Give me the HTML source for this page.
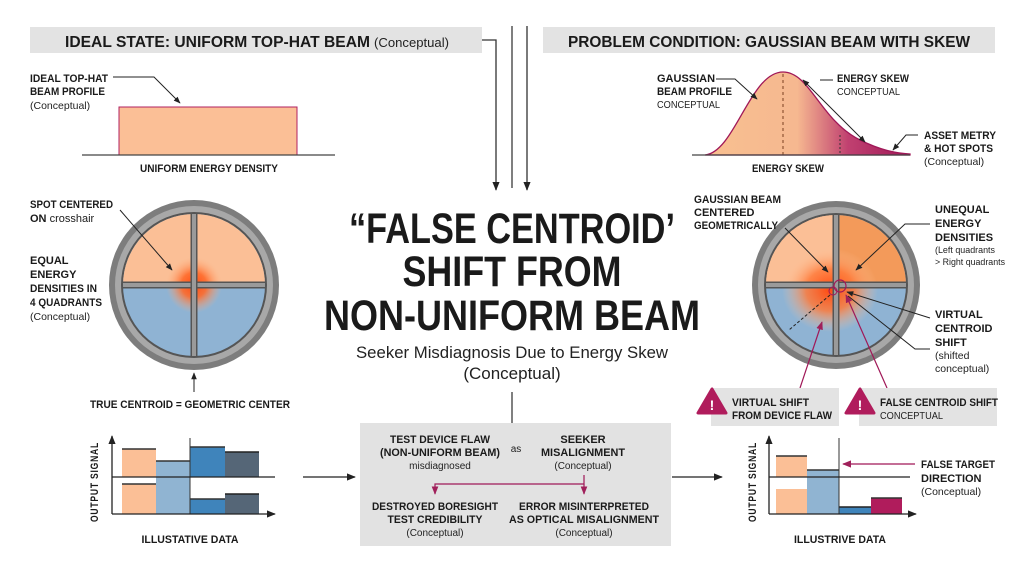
<!DOCTYPE html>
<html><head><meta charset="utf-8"><style>
html,body{margin:0;padding:0;background:#fff;}
svg{display:block;font-family:"Liberation Sans",sans-serif;}
.b{font-weight:bold;fill:#1a1a1a;}
.n{fill:#222;}
</style></head><body>
<svg width="1024" height="572" viewBox="0 0 1024 572" xmlns="http://www.w3.org/2000/svg">
<defs>
<marker id="ar" viewBox="0 0 10 10" refX="9" refY="5" markerWidth="7" markerHeight="7" orient="auto-start-reverse"><path d="M0,1 L10,5 L0,9 z" fill="#222"/></marker>
<marker id="am" viewBox="0 0 10 10" refX="9" refY="5" markerWidth="7" markerHeight="7" orient="auto-start-reverse"><path d="M0,1 L10,5 L0,9 z" fill="#a0205a"/></marker>
<radialGradient id="spot1"><stop offset="0" stop-color="#ff4a10"/><stop offset="0.45" stop-color="#ff6a2a" stop-opacity="0.9"/><stop offset="1" stop-color="#ffb080" stop-opacity="0"/></radialGradient>
<radialGradient id="spot2"><stop offset="0" stop-color="#ff4a10"/><stop offset="0.5" stop-color="#ff7a3a" stop-opacity="0.85"/><stop offset="1" stop-color="#ffc8a0" stop-opacity="0"/></radialGradient>
<linearGradient id="gs" x1="0" x2="1"><stop offset="0" stop-color="#f8c090"/><stop offset="0.45" stop-color="#f6b890"/><stop offset="0.7" stop-color="#c04070"/><stop offset="1" stop-color="#a01858"/></linearGradient>
</defs>

<!-- headers -->
<rect x="30" y="27" width="452" height="26" fill="#e3e3e3"/>
<text x="65" y="47" class="b" font-size="16" textLength="305" lengthAdjust="spacingAndGlyphs">IDEAL STATE: UNIFORM TOP-HAT BEAM</text>
<text x="374" y="47" class="n" font-size="13" textLength="75" lengthAdjust="spacingAndGlyphs">(Conceptual)</text>
<rect x="543" y="27" width="452" height="26" fill="#e3e3e3"/>
<text x="568" y="47" class="b" font-size="16" textLength="402" lengthAdjust="spacingAndGlyphs">PROBLEM CONDITION: GAUSSIAN BEAM WITH SKEW</text>

<!-- center connectors -->
<path d="M482,40 H496 V190" fill="none" stroke="#333" stroke-width="1.3" marker-end="url(#ar)"/>
<line x1="512" y1="26" x2="512" y2="188" stroke="#555" stroke-width="1.5"/>
<path d="M527,26 V190" fill="none" stroke="#333" stroke-width="1.3" marker-end="url(#ar)"/>
<line x1="512" y1="392" x2="512" y2="423" stroke="#555" stroke-width="1.5"/>

<!-- title -->
<text x="512" y="243" text-anchor="middle" class="b" font-size="43" fill="#111" textLength="326" lengthAdjust="spacingAndGlyphs">“FALSE CENTROID’</text>
<text x="512" y="286" text-anchor="middle" class="b" font-size="43" fill="#111" textLength="219" lengthAdjust="spacingAndGlyphs">SHIFT FROM</text>
<text x="512" y="330" text-anchor="middle" class="b" font-size="43" fill="#111" textLength="376" lengthAdjust="spacingAndGlyphs">NON-UNIFORM BEAM</text>
<text x="512" y="358" text-anchor="middle" class="n" font-size="17" textLength="312" lengthAdjust="spacingAndGlyphs">Seeker Misdiagnosis Due to Energy Skew</text>
<text x="512" y="379" text-anchor="middle" class="n" font-size="17">(Conceptual)</text>

<!-- top hat -->
<text x="30" y="82" class="b" font-size="11" textLength="78" lengthAdjust="spacingAndGlyphs">IDEAL TOP-HAT</text>
<text x="30" y="95" class="b" font-size="11" textLength="75" lengthAdjust="spacingAndGlyphs">BEAM PROFILE</text>
<text x="30" y="109" class="n" font-size="10.5">(Conceptual)</text>
<path d="M113,77 H154 L180,103" fill="none" stroke="#222" stroke-width="1" marker-end="url(#ar)"/>
<rect x="119" y="107" width="178" height="48" fill="#fbbf96" stroke="#b02060" stroke-width="1"/>
<line x1="82" y1="155" x2="335" y2="155" stroke="#444" stroke-width="1.2"/>
<text x="209" y="172" text-anchor="middle" class="b" font-size="11" textLength="138" lengthAdjust="spacingAndGlyphs">UNIFORM ENERGY DENSITY</text>

<!-- left circle -->
<circle cx="194" cy="285" r="85" fill="#7d7d7d"/>
<circle cx="194" cy="285" r="79" fill="#a8a8a8"/>
<circle cx="194" cy="285" r="73" fill="#555"/>
<circle cx="194" cy="285" r="71" fill="#8fb3d3"/>
<path d="M123,285 A71,71 0 0 1 265,285 Z" fill="#fbbf96"/>
<circle cx="194" cy="285" r="28" fill="url(#spot1)"/>
<line x1="123" y1="285" x2="265" y2="285" stroke="#555" stroke-width="7"/>
<line x1="123" y1="285" x2="265" y2="285" stroke="#9a9a9a" stroke-width="4"/>
<line x1="194" y1="214" x2="194" y2="356" stroke="#555" stroke-width="7"/>
<line x1="194" y1="214" x2="194" y2="356" stroke="#9a9a9a" stroke-width="4"/>
<text x="30" y="208" class="b" font-size="11" textLength="83" lengthAdjust="spacingAndGlyphs">SPOT CENTERED</text>
<text x="30" y="222" class="b" font-size="11">ON <tspan font-weight="normal">crosshair</tspan></text>
<line x1="120" y1="210" x2="172" y2="270" stroke="#222" stroke-width="1" marker-end="url(#ar)"/>
<text x="30" y="264" class="b" font-size="11">EQUAL</text>
<text x="30" y="278" class="b" font-size="11">ENERGY</text>
<text x="30" y="292" class="b" font-size="11" textLength="67" lengthAdjust="spacingAndGlyphs">DENSITIES IN</text>
<text x="30" y="306" class="b" font-size="11" textLength="72" lengthAdjust="spacingAndGlyphs">4 QUADRANTS</text>
<text x="30" y="320" class="n" font-size="10.5">(Conceptual)</text>
<line x1="194" y1="392" x2="194" y2="373" stroke="#222" stroke-width="1" marker-end="url(#ar)"/>
<text x="190" y="408" text-anchor="middle" class="b" font-size="11" textLength="200" lengthAdjust="spacingAndGlyphs">TRUE CENTROID = GEOMETRIC CENTER</text>

<!-- gaussian -->
<path d="M705,155 C735,152 750,72 783,72 C810,72 820,120 860,140 C880,150 895,153 910,154 L910,155 Z" fill="url(#gs)" stroke="#a01858" stroke-width="1.3"/>
<line x1="783" y1="74" x2="783" y2="155" stroke="#7a4020" stroke-width="1" stroke-dasharray="3,3"/>
<line x1="840" y1="135" x2="840" y2="155" stroke="#333" stroke-width="1" stroke-dasharray="2,2"/>
<line x1="692" y1="155" x2="910" y2="155" stroke="#444" stroke-width="1.2"/>
<text x="657" y="82" class="b" font-size="11">GAUSSIAN</text>
<text x="657" y="95" class="b" font-size="11" textLength="75" lengthAdjust="spacingAndGlyphs">BEAM PROFILE</text>
<text x="657" y="108" class="n" font-size="10.5" textLength="63" lengthAdjust="spacingAndGlyphs">CONCEPTUAL</text>
<path d="M716,79 H735 L757,99" fill="none" stroke="#222" stroke-width="1" marker-end="url(#ar)"/>
<text x="837" y="82" class="b" font-size="11" textLength="72" lengthAdjust="spacingAndGlyphs">ENERGY SKEW</text>
<text x="837" y="95" class="n" font-size="10.5" textLength="63" lengthAdjust="spacingAndGlyphs">CONCEPTUAL</text>
<path d="M833,80 L820,80" fill="none" stroke="#222" stroke-width="1"/>
<line x1="803" y1="80" x2="865" y2="142" stroke="#222" stroke-width="1" marker-end="url(#ar)" marker-start="url(#ar)"/>
<text x="924" y="139" class="b" font-size="11" textLength="72" lengthAdjust="spacingAndGlyphs">ASSET METRY</text>
<text x="924" y="152" class="b" font-size="11" textLength="69" lengthAdjust="spacingAndGlyphs">&amp; HOT SPOTS</text>
<text x="924" y="165" class="n" font-size="10.5">(Conceptual)</text>
<path d="M918,135 H906 L893,150" fill="none" stroke="#222" stroke-width="1" marker-end="url(#ar)"/>
<text x="788" y="172" text-anchor="middle" class="b" font-size="11" textLength="72" lengthAdjust="spacingAndGlyphs">ENERGY SKEW</text>

<!-- right circle -->
<circle cx="836" cy="285" r="84" fill="#7d7d7d"/>
<circle cx="836" cy="285" r="78" fill="#a8a8a8"/>
<circle cx="836" cy="285" r="72" fill="#555"/>
<circle cx="836" cy="285" r="70" fill="#8fb3d3"/>
<path d="M766,285 A70,70 0 0 1 906,285 Z" fill="#f39a5a"/>
<path d="M766,285 A70,70 0 0 1 836,215 V285 Z" fill="#fbbf96"/>
<ellipse cx="830" cy="290" rx="48" ry="42" fill="url(#spot2)"/>
<line x1="766" y1="285" x2="906" y2="285" stroke="#555" stroke-width="7"/>
<line x1="766" y1="285" x2="906" y2="285" stroke="#9a9a9a" stroke-width="4"/>
<line x1="836" y1="215" x2="836" y2="355" stroke="#555" stroke-width="7"/>
<line x1="836" y1="215" x2="836" y2="355" stroke="#9a9a9a" stroke-width="4"/>
<circle cx="840" cy="286" r="6" fill="none" stroke="#a01858" stroke-width="1.2"/>
<circle cx="833" cy="291" r="4" fill="none" stroke="#a01858" stroke-width="1"/>
<line x1="830" y1="295" x2="789" y2="330" stroke="#222" stroke-width="1" stroke-dasharray="3,2"/>
<text x="694" y="203" class="b" font-size="11" textLength="87" lengthAdjust="spacingAndGlyphs">GAUSSIAN BEAM</text>
<text x="694" y="216" class="b" font-size="11">CENTERED</text>
<text x="694" y="229" class="b" font-size="11" textLength="84" lengthAdjust="spacingAndGlyphs">GEOMETRICALLY</text>
<line x1="785" y1="228" x2="828" y2="272" stroke="#222" stroke-width="1" marker-end="url(#ar)"/>
<text x="935" y="213" class="b" font-size="11">UNEQUAL</text>
<text x="935" y="227" class="b" font-size="11">ENERGY</text>
<text x="935" y="241" class="b" font-size="11">DENSITIES</text>
<text x="935" y="253" class="n" font-size="9.5" textLength="60" lengthAdjust="spacingAndGlyphs">(Left quadrants</text>
<text x="935" y="265" class="n" font-size="9.5" textLength="70" lengthAdjust="spacingAndGlyphs">&gt; Right quadrants</text>
<path d="M930,224 H905 L856,270" fill="none" stroke="#222" stroke-width="1" marker-end="url(#ar)"/>
<text x="935" y="318" class="b" font-size="11">VIRTUAL</text>
<text x="935" y="332" class="b" font-size="11">CENTROID</text>
<text x="935" y="346" class="b" font-size="11">SHIFT</text>
<text x="935" y="359" class="n" font-size="10.5">(shifted</text>
<text x="935" y="372" class="n" font-size="10.5">conceptual)</text>
<path d="M930,318 L847,292" fill="none" stroke="#222" stroke-width="1" marker-end="url(#ar)"/>
<path d="M930,349 H915 L848,296" fill="none" stroke="#222" stroke-width="1"/>
<line x1="800" y1="388" x2="822" y2="322" stroke="#a01858" stroke-width="1.2" marker-end="url(#am)"/>
<line x1="887" y1="388" x2="846" y2="295" stroke="#a01858" stroke-width="1.2" marker-end="url(#am)"/>

<!-- warning boxes -->
<rect x="711" y="388" width="128" height="38" fill="#e3e3e3"/>
<path d="M712,389 L698,413 L726,413 Z" fill="#b01c5c" stroke="#b01c5c" stroke-width="3" stroke-linejoin="round"/>
<text x="712" y="410" text-anchor="middle" fill="#fff" font-weight="bold" font-size="14">!</text>
<text x="732" y="406" class="b" font-size="11" textLength="77" lengthAdjust="spacingAndGlyphs">VIRTUAL SHIFT</text>
<text x="732" y="419" class="b" font-size="11" textLength="100" lengthAdjust="spacingAndGlyphs">FROM DEVICE FLAW</text>
<rect x="859" y="388" width="138" height="38" fill="#e3e3e3"/>
<path d="M860,389 L846,413 L874,413 Z" fill="#b01c5c" stroke="#b01c5c" stroke-width="3" stroke-linejoin="round"/>
<text x="860" y="410" text-anchor="middle" fill="#fff" font-weight="bold" font-size="14">!</text>
<text x="880" y="406" class="b" font-size="11" textLength="118" lengthAdjust="spacingAndGlyphs">FALSE CENTROID SHIFT</text>
<text x="880" y="419" class="n" font-size="10.5" textLength="63" lengthAdjust="spacingAndGlyphs">CONCEPTUAL</text>

<!-- left chart -->
<rect x="122" y="449" width="34" height="28" fill="#fbbf96"/><line x1="122" y1="449" x2="156" y2="449" stroke="#333" stroke-width="1.5"/>
<rect x="122" y="484" width="34" height="30" fill="#fbbf96"/><line x1="122" y1="484" x2="156" y2="484" stroke="#333" stroke-width="1.5"/>
<rect x="156" y="461" width="34" height="53" fill="#90b4d2"/><line x1="156" y1="461" x2="190" y2="461" stroke="#333" stroke-width="1.5"/>
<rect x="190" y="447" width="35" height="30" fill="#3f84bb"/><line x1="190" y1="447" x2="225" y2="447" stroke="#333" stroke-width="1.5"/>
<rect x="190" y="499" width="35" height="15" fill="#3f84bb"/><line x1="190" y1="499" x2="225" y2="499" stroke="#333" stroke-width="1.5"/>
<rect x="225" y="452" width="34" height="25" fill="#556677"/><line x1="225" y1="452" x2="259" y2="452" stroke="#222" stroke-width="1.5"/>
<rect x="225" y="494" width="34" height="20" fill="#556677"/><line x1="225" y1="494" x2="259" y2="494" stroke="#222" stroke-width="1.5"/>
<line x1="190" y1="438" x2="190" y2="514" stroke="#333" stroke-width="1"/>
<line x1="112" y1="477" x2="275" y2="477" stroke="#222" stroke-width="1.3"/>
<line x1="112" y1="514" x2="112" y2="436" stroke="#222" stroke-width="1.3" marker-end="url(#ar)"/>
<line x1="112" y1="514" x2="275" y2="514" stroke="#222" stroke-width="1.3" marker-end="url(#ar)"/>
<text transform="translate(98,482) rotate(-90)" text-anchor="middle" class="b" font-size="11" letter-spacing="1" textLength="80" lengthAdjust="spacingAndGlyphs">OUTPUT SIGNAL</text>
<text x="190" y="543" text-anchor="middle" class="b" font-size="11" textLength="97" lengthAdjust="spacingAndGlyphs">ILLUSTATIVE DATA</text>

<path d="M303,477 H355" stroke="#222" stroke-width="1.3" marker-end="url(#ar)"/>
<path d="M672,477 H722" stroke="#222" stroke-width="1.3" marker-end="url(#ar)"/>

<!-- center box -->
<rect x="360" y="423" width="311" height="123" fill="#e2e2e2"/>
<text x="440" y="443" text-anchor="middle" class="b" font-size="11" textLength="100" lengthAdjust="spacingAndGlyphs">TEST DEVICE FLAW</text>
<text x="440" y="456" text-anchor="middle" class="b" font-size="11" textLength="120" lengthAdjust="spacingAndGlyphs">(NON-UNIFORM BEAM)</text>
<text x="440" y="469" text-anchor="middle" class="n" font-size="10">misdiagnosed</text>
<text x="516" y="452" text-anchor="middle" class="n" font-size="10">as</text>
<text x="583" y="443" text-anchor="middle" class="b" font-size="11">SEEKER</text>
<text x="583" y="456" text-anchor="middle" class="b" font-size="11" textLength="84" lengthAdjust="spacingAndGlyphs">MISALIGNMENT</text>
<text x="583" y="469" text-anchor="middle" class="n" font-size="10">(Conceptual)</text>
<path d="M584,475 V484 H435 V494" fill="none" stroke="#a01858" stroke-width="1.2" marker-end="url(#am)"/>
<path d="M584,484 V494" fill="none" stroke="#a01858" stroke-width="1.2" marker-end="url(#am)"/>
<text x="435" y="510" text-anchor="middle" class="b" font-size="11" textLength="126" lengthAdjust="spacingAndGlyphs">DESTROYED BORESIGHT</text>
<text x="435" y="523" text-anchor="middle" class="b" font-size="11" textLength="95" lengthAdjust="spacingAndGlyphs">TEST CREDIBILITY</text>
<text x="435" y="536" text-anchor="middle" class="n" font-size="10">(Conceptual)</text>
<text x="584" y="510" text-anchor="middle" class="b" font-size="11" textLength="130" lengthAdjust="spacingAndGlyphs">ERROR MISINTERPRETED</text>
<text x="584" y="523" text-anchor="middle" class="b" font-size="11" textLength="150" lengthAdjust="spacingAndGlyphs">AS OPTICAL MISALIGNMENT</text>
<text x="584" y="536" text-anchor="middle" class="n" font-size="10">(Conceptual)</text>

<!-- right chart -->
<rect x="776" y="456" width="31" height="21" fill="#fbbf96"/><line x1="776" y1="456" x2="807" y2="456" stroke="#333" stroke-width="1.5"/>
<rect x="776" y="489" width="31" height="25" fill="#fbbf96"/>
<rect x="807" y="470" width="32" height="44" fill="#90b4d2"/><line x1="807" y1="470" x2="839" y2="470" stroke="#333" stroke-width="1.5"/>
<rect x="839" y="507" width="32" height="7" fill="#3f84bb"/><line x1="839" y1="507" x2="871" y2="507" stroke="#222" stroke-width="1.5"/>
<rect x="871" y="498" width="31" height="16" fill="#b01c5c"/><line x1="871" y1="498" x2="902" y2="498" stroke="#333" stroke-width="1.5"/>
<line x1="839" y1="438" x2="839" y2="514" stroke="#333" stroke-width="1"/>
<line x1="769" y1="477" x2="910" y2="477" stroke="#222" stroke-width="1.3"/>
<line x1="769" y1="514" x2="769" y2="436" stroke="#222" stroke-width="1.3" marker-end="url(#ar)"/>
<line x1="769" y1="514" x2="916" y2="514" stroke="#222" stroke-width="1.3" marker-end="url(#ar)"/>
<text transform="translate(756,482) rotate(-90)" text-anchor="middle" class="b" font-size="11" letter-spacing="1" textLength="80" lengthAdjust="spacingAndGlyphs">OUTPUT SIGNAL</text>
<line x1="915" y1="464" x2="843" y2="464" stroke="#a01858" stroke-width="1.3" marker-end="url(#am)"/>
<text x="921" y="468" class="b" font-size="11" textLength="74" lengthAdjust="spacingAndGlyphs">FALSE TARGET</text>
<text x="921" y="482" class="b" font-size="11">DIRECTION</text>
<text x="921" y="495" class="n" font-size="10.5">(Conceptual)</text>
<text x="840" y="543" text-anchor="middle" class="b" font-size="11" textLength="92" lengthAdjust="spacingAndGlyphs">ILLUSTRIVE DATA</text>
</svg>
</body></html>
